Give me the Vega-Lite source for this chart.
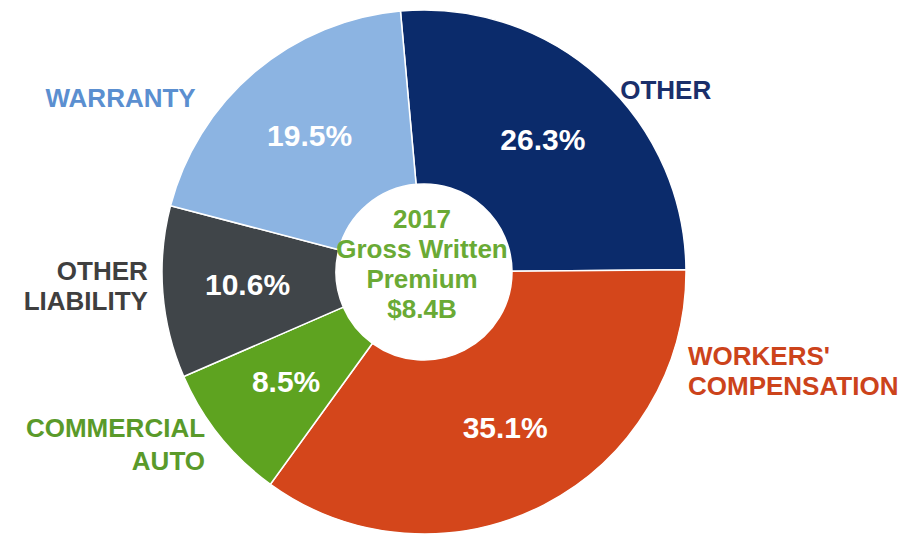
{
  "$schema": "https://vega.github.io/schema/vega-lite/v6.json",
  "autosize": "none",
  "width": 848,
  "height": 524,
  "padding": {"left": 0, "top": 10, "right": 74, "bottom": 0},
  "background": "white",
  "config": {"view": {"stroke": null}, "font": "Liberation Sans"},
  "data": {
    "values": [
      {"cat": "OTHER", "name": "OTHER", "value": 26.3, "pct": "26.3%", "rank": 1},
      {"cat": "WORKERS", "name": "WORKERS'\nCOMPENSATION", "value": 35.1, "pct": "35.1%", "rank": 2},
      {"cat": "COMMERCIAL AUTO", "name": "COMMERCIAL\nAUTO", "value": 8.5, "pct": "8.5%", "rank": 3},
      {"cat": "OTHER LIABILITY", "name": "OTHER\nLIABILITY", "value": 10.6, "pct": "10.6%", "rank": 4},
      {"cat": "WARRANTY", "name": "WARRANTY", "value": 19.5, "pct": "19.5%", "rank": 5}
    ]
  },
  "encoding": {
    "theta": {"field": "value", "type": "quantitative", "stack": true, "scale": {"range": [-0.09, 6.1932]}},
    "order": {"field": "rank", "type": "quantitative"}
  },
  "layer": [
    {
      "mark": {"type": "arc", "outerRadius": 262, "innerRadius": 88, "stroke": "white", "strokeWidth": 1.5},
      "encoding": {
        "color": {
          "field": "cat", "type": "nominal", "legend": null,
          "scale": {
            "domain": ["OTHER", "WORKERS", "COMMERCIAL AUTO", "OTHER LIABILITY", "WARRANTY"],
            "range": ["#0b2b6b", "#d4461b", "#5ea320", "#404549", "#8cb4e2"]
          }
        }
      }
    },
    {
      "mark": {"type": "text", "radius": 177, "fontSize": 30, "fontWeight": "bold", "color": "white", "align": "center", "baseline": "middle"},
      "encoding": {"text": {"field": "pct"}}
    },
    {
      "mark": {"type": "text", "radius": 290, "dx": 47, "dy": 34, "fontSize": 26, "fontWeight": "bold", "color": "#1a2f6b", "align": "center", "baseline": "middle", "lineBreak": "\n", "lineHeight": 31},
      "encoding": {"text": {"condition": {"test": "datum.cat === 'OTHER'", "field": "name"}, "value": ""}}
    },
    {
      "mark": {"type": "text", "radius": 290, "dx": 131, "dy": -173, "fontSize": 26, "fontWeight": "bold", "color": "#cc431b", "align": "left", "baseline": "middle", "lineBreak": "\n", "lineHeight": 30},
      "encoding": {"text": {"condition": {"test": "datum.cat === 'WORKERS'", "field": "name"}, "value": ""}}
    },
    {
      "mark": {"type": "text", "radius": 290, "dx": 7, "dy": -25, "fontSize": 26, "fontWeight": "bold", "color": "#5a9a2a", "align": "right", "baseline": "middle", "lineBreak": "\n", "lineHeight": 33},
      "encoding": {"text": {"condition": {"test": "datum.cat === 'COMMERCIAL AUTO'", "field": "name"}, "value": ""}}
    },
    {
      "mark": {"type": "text", "radius": 290, "dx": 13, "dy": -22, "fontSize": 26, "fontWeight": "bold", "color": "#3f3f3f", "align": "right", "baseline": "middle", "lineBreak": "\n", "lineHeight": 30},
      "encoding": {"text": {"condition": {"test": "datum.cat === 'OTHER LIABILITY'", "field": "name"}, "value": ""}}
    },
    {
      "mark": {"type": "text", "radius": 290, "dx": -116, "dy": 48, "fontSize": 26, "fontWeight": "bold", "color": "#5b8fd0", "align": "center", "baseline": "middle", "lineBreak": "\n", "lineHeight": 31},
      "encoding": {"text": {"condition": {"test": "datum.cat === 'WARRANTY'", "field": "name"}, "value": ""}}
    },
    {
      "mark": {"type": "text", "radius": 0, "dx": -2, "dy": -52, "fontSize": 26, "fontWeight": "bold", "color": "#6aaa35", "align": "center", "baseline": "middle", "lineBreak": "\n", "lineHeight": 30},
      "encoding": {"text": {"condition": {"test": "datum.cat === 'OTHER'", "value": "2017\nGross Written\nPremium\n$8.4B"}, "value": ""}}
    }
  ]
}
